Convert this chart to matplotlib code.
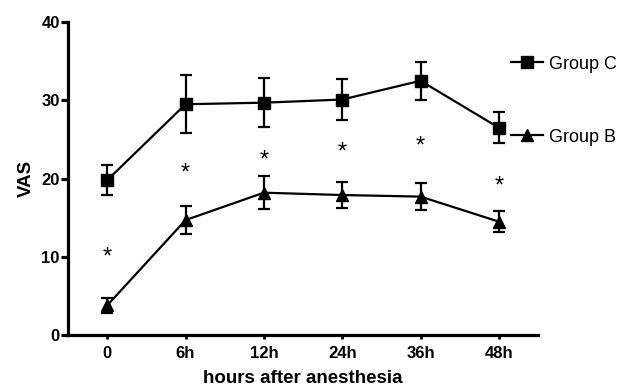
import matplotlib
matplotlib.use("Agg")
from matplotlib import pyplot as plt
from matplotlib.lines import Line2D
from matplotlib.transforms import offset_copy

hours = ["0", "6h", "12h", "24h", "36h", "48h"]
group_c = [19.8, 29.5, 29.7, 30.1, 32.5, 26.5]
group_c_err = [1.9, 3.7, 3.1, 2.6, 2.4, 2.0]
group_b = [3.8, 14.7, 18.2, 17.9, 17.7, 14.5]
group_b_err = [1.0, 1.8, 2.1, 1.7, 1.7, 1.3]
star_y = [10.6, 21.3, 22.9, 24.0, 24.7, 19.6]

plt.rcParams["font.family"] = ["Liberation Sans", "DejaVu Sans"]

fig = plt.figure(figsize=(6.3, 3.87), dpi=100)
ax = fig.add_axes([0.108, 0.134, 0.746, 0.809])

x = list(range(len(hours)))
ax.errorbar(x, group_c, yerr=group_c_err, color="black", marker="s",
            markersize=8.5, linewidth=1.6, elinewidth=1.6, capsize=4.5,
            capthick=1.6)
ax.errorbar(x, group_b, yerr=group_b_err, color="black", marker="^",
            markersize=9, linewidth=1.6, elinewidth=1.6, capsize=4.5,
            capthick=1.6)

# the asterisk glyph sits high in its box, so nudge it down a bit
star_tr = offset_copy(ax.transData, fig=fig, x=0, y=-5, units="dots")
for xi, yi in zip(x, star_y):
    ax.text(xi, yi, "*", ha="center", va="center", fontsize=17,
            transform=star_tr)

ax.set_xlim(-0.5, 5.5)
ax.set_ylim(0, 40)
ax.set_xticks(x)
ax.set_xticklabels(hours)
ax.set_yticks([0, 10, 20, 30, 40])
for side in ["top", "right"]:
    ax.spines[side].set_visible(False)
for side in ["left", "bottom"]:
    ax.spines[side].set_linewidth(2.3)
ax.tick_params(axis="y", width=2.3, length=5, labelsize=12, pad=1)
ax.tick_params(axis="x", width=2.0, length=3, labelsize=12, pad=5)
for lab in ax.get_xticklabels() + ax.get_yticklabels():
    lab.set_fontweight("bold")

ax.set_xlabel("hours after anesthesia", fontsize=13.5, fontweight="bold",
              labelpad=6)
ax.set_ylabel("VAS", fontsize=13.5, fontweight="bold", labelpad=5)

handles = [
    Line2D([], [], color="black", marker="s", markersize=8.5, linewidth=1.6),
    Line2D([], [], color="black", marker="^", markersize=9, linewidth=1.6),
]
ax.legend(handles, ["Group C", "Group B"], loc="upper left",
          bbox_to_anchor=(0.943, 0.893), frameon=False, fontsize=13,
          labelspacing=3.1, handlelength=1.75, handletextpad=0.35,
          borderaxespad=0, borderpad=0)

fig.savefig("out.png", dpi=100)
